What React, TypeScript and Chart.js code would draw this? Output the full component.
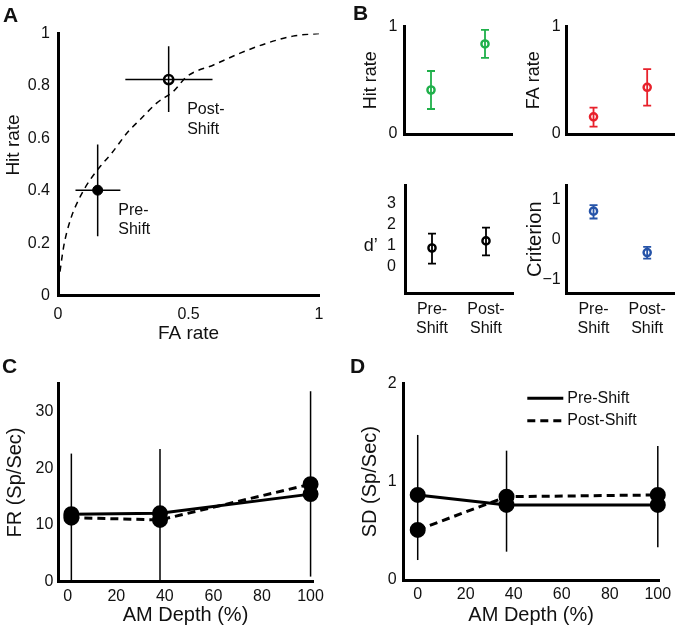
import React, { useEffect, useRef } from "react";
import { Chart, registerables } from "chart.js";
Chart.register(...registerables);

const FONT = "'Liberation Sans', Arial, Helvetica, sans-serif";
const INK = "#111";
const AXIS = "#000";

// ---------------- DATA ----------------
// Panel A: ROC curve
const rocFA = [0.002, 0.022, 0.048, 0.086, 0.124, 0.163, 0.207, 0.265, 0.315, 0.379, 0.443, 0.494, 0.596, 0.698, 0.8, 0.9, 1];
const rocHit = [0.05, 0.188, 0.29, 0.379, 0.443, 0.494, 0.545, 0.621, 0.672, 0.735, 0.78, 0.836, 0.88, 0.925, 0.963, 0.99, 1];
// Panel A: Pre-Shift, Post-Shift points
const ptFA = [0.152, 0.424];
const ptHit = [0.402, 0.824];
const ptFALo = [0.067, 0.258];
const ptFAHi = [0.239, 0.592];
const ptHitLo = [0.226, 0.7];
const ptHitHi = [0.576, 0.951];
const aTicksX = [0, 0.5, 1];
const aTicksY = [0, 0.2, 0.4, 0.6, 0.8, 1];

// Panel B
const shiftLabels = [["Pre-", "Shift"], ["Post-", "Shift"]];
const hitRate = [0.41, 0.839];
const hitLo = [0.233, 0.71];
const hitHi = [0.587, 0.97];
const faRate = [0.16, 0.435];
const faLo = [0.068, 0.264];
const faHi = [0.245, 0.605];
const dPrime = [0.88, 1.22];
const dLo = [0.13, 0.53];
const dHi = [1.57, 1.86];
const criterion = [0.705, -0.335];
const critLo = [0.52, -0.486];
const critHi = [0.856, -0.19];
const rateTicks = [0, 1];
const dTicks = [0, 1, 2, 3];
const critTicks = [-1, 0, 1];

// Panel C
const depthC = [1.5, 38, 100];
const frPre = [11.9, 12.06, 15.45];
const frPost = [11.3, 10.9, 17.2];
const frErrLo = [0, 0, 0.9];
const frErrHi = [22.6, 23.4, 33.6];
const frTicks = [0, 10, 20, 30];
const depthTicks = [0, 20, 40, 60, 80, 100];

// Panel D
const depthD = [0, 37, 100];
const sdPre = [0.865, 0.763, 0.763];
const sdPost = [0.509, 0.847, 0.865];
const sdErrLo = [0.203, 0.288, 0.332];
const sdErrHi = [1.475, 1.315, 1.363];
const sdTicks = [0, 1, 2];

// ---------------- LAYOUT ----------------
type Geo = { cx: number; cy: number; cw: number; ch: number; l: number; t: number; r: number; b: number };
const GA: Geo = { cx: 0, cy: 0, cw: 335, ch: 345, l: 58, t: 33.5, r: 319, b: 295.5 };
const GB1: Geo = { cx: 352, cy: 0, cw: 170, ch: 145, l: 404, t: 26.7, r: 512, b: 134 };
const GB2: Geo = { cx: 516, cy: 0, cw: 165, ch: 145, l: 566.7, t: 26.7, r: 674, b: 134 };
const GB3: Geo = { cx: 352, cy: 150, cw: 170, ch: 195, l: 405, t: 185, r: 513, b: 293.5 };
const GB4: Geo = { cx: 516, cy: 150, cw: 165, ch: 195, l: 566.7, t: 185, r: 674, b: 293.5 };
const GC: Geo = { cx: 0, cy: 350, cw: 335, ch: 278, l: 58, t: 383.3, r: 313, b: 581.7 };
const GD: Geo = { cx: 350, cy: 350, cw: 331, ch: 278, l: 403.3, t: 383.3, r: 659, b: 580 };

const GREEN = "#1fb04a";
const RED = "#e8212b";
const BLUE = "#2553a8";

const fmt = (v: number) => String(v).replace("-", "\u2212");

function zeroPad(s: any) {
  s.paddingLeft = 0;
  s.paddingRight = 0;
  s.paddingTop = 0;
  s.paddingBottom = 0;
}

type AxisSpec = {
  type?: string;
  min?: number;
  max?: number;
  ticks?: number[];
  showTicks?: boolean;
  tickPad: number;
  tickSize?: number;
  tickLineHeight?: number;
  title?: string;
  titleSize?: number;
  titleCenter?: number;
};

function xAxis(g: Geo, a: AxisSpec) {
  const h = g.cy + g.ch - g.b;
  const ts = a.titleSize || 19;
  const padBottom = a.title ? Math.max(0, g.cy + g.ch - (a.titleCenter as number) - (ts * 1.2) / 2) : 0;
  const o: any = {
    type: a.type || "linear",
    position: "bottom",
    offset: a.type === "category",
    afterFit: (s: any) => {
      s.height = h;
      zeroPad(s);
    },
    grid: { display: false, drawTicks: false, drawOnChartArea: false },
    border: { display: true, width: 3, color: AXIS },
    ticks: {
      display: a.showTicks !== false,
      autoSkip: false,
      maxRotation: 0,
      padding: a.tickPad,
      color: INK,
      font: { family: FONT, size: a.tickSize || 16, lineHeight: a.tickLineHeight || 1.2 },
    },
    title: {
      display: !!a.title,
      text: a.title || "",
      color: INK,
      font: { family: FONT, size: ts, lineHeight: 1.2 },
      padding: { top: 0, bottom: padBottom },
    },
  };
  if (a.type !== "category") {
    o.min = a.min;
    o.max = a.max;
    o.ticks.callback = (v: any) => fmt(v);
    const tv = a.ticks || [];
    o.afterBuildTicks = (s: any) => {
      s.ticks = tv.map((v) => ({ value: v }));
    };
  }
  return o;
}

function yAxis(g: Geo, a: AxisSpec) {
  const w = g.l - g.cx;
  const ts = a.titleSize || 18;
  const padTop = a.title ? (a.titleCenter as number) - g.cx - (ts * 1.2) / 2 : 0;
  const tv = a.ticks || [];
  return {
    type: "linear",
    position: "left",
    min: a.min,
    max: a.max,
    afterBuildTicks: (s: any) => {
      s.ticks = tv.map((v) => ({ value: v }));
    },
    afterFit: (s: any) => {
      s.width = w;
      zeroPad(s);
    },
    grid: { display: false, drawTicks: false, drawOnChartArea: false },
    border: { display: true, width: 3, color: AXIS },
    ticks: {
      autoSkip: false,
      padding: a.tickPad,
      color: INK,
      font: { family: FONT, size: a.tickSize || 16 },
      callback: (v: any) => fmt(v),
    },
    title: {
      display: !!a.title,
      text: a.title || "",
      color: INK,
      font: { family: FONT, size: ts, lineHeight: 1.2 },
      padding: { top: padTop, bottom: 0 },
    },
  };
}

type Bar = { di: number; lo?: number[]; hi?: number[]; xlo?: number[]; xhi?: number[]; color: string; width: number; cap?: number };

function errorBars(bars: Bar[]) {
  return {
    id: "errbars",
    beforeDatasetsDraw(chart: any) {
      const ctx = chart.ctx;
      const xs = chart.scales.x;
      const ys = chart.scales.y;
      for (const b of bars) {
        const meta = chart.getDatasetMeta(b.di);
        meta.data.forEach((el: any, i: number) => {
          const px = el.x;
          const py = el.y;
          ctx.save();
          ctx.strokeStyle = b.color;
          ctx.lineWidth = b.width;
          ctx.beginPath();
          if (b.lo && b.hi) {
            const y1 = ys.getPixelForValue(b.lo[i]);
            const y2 = ys.getPixelForValue(b.hi[i]);
            ctx.moveTo(px, y1);
            ctx.lineTo(px, y2);
            if (b.cap) {
              ctx.moveTo(px - b.cap, y1);
              ctx.lineTo(px + b.cap, y1);
              ctx.moveTo(px - b.cap, y2);
              ctx.lineTo(px + b.cap, y2);
            }
          }
          if (b.xlo && b.xhi) {
            const x1 = xs.getPixelForValue(b.xlo[i]);
            const x2 = xs.getPixelForValue(b.xhi[i]);
            ctx.moveTo(x1, py);
            ctx.lineTo(x2, py);
          }
          ctx.stroke();
          ctx.restore();
        });
      }
    },
  };
}

type TextItem = { text: string; x: number; y: number; data?: boolean; size: number; align?: string; rotate?: number; bold?: boolean };

function texts(items: TextItem[]) {
  return {
    id: "texts",
    afterDraw(chart: any) {
      const ctx = chart.ctx;
      for (const it of items) {
        let x = it.x;
        let y = it.y;
        if (it.data) {
          x = chart.scales.x.getPixelForValue(it.x);
          y = chart.scales.y.getPixelForValue(it.y);
        }
        ctx.save();
        ctx.font = `${it.bold ? "bold " : ""}${it.size}px ${FONT}`;
        ctx.fillStyle = INK;
        ctx.textAlign = it.align || "left";
        ctx.textBaseline = "middle";
        ctx.translate(x, y);
        if (it.rotate) ctx.rotate(it.rotate);
        ctx.fillText(it.text, 0, 0);
        ctx.restore();
      }
    },
  };
}

const inlineLegend = {
  id: "inlineLegend",
  afterDraw(chart: any) {
    const ctx = chart.ctx;
    const ca = chart.chartArea;
    chart.data.datasets.forEach((ds: any, i: number) => {
      const y = ca.top + 15 + i * 22.4;
      const x0 = ca.left + 124;
      ctx.save();
      ctx.strokeStyle = "#000";
      ctx.lineWidth = 3;
      ctx.setLineDash(ds.borderDash || []);
      ctx.beginPath();
      ctx.moveTo(x0, y);
      ctx.lineTo(x0 + 36, y);
      ctx.stroke();
      ctx.setLineDash([]);
      ctx.font = `16px ${FONT}`;
      ctx.fillStyle = INK;
      ctx.textBaseline = "middle";
      ctx.fillText(ds.label, x0 + 40, y);
      ctx.restore();
    });
  },
};

function baseOptions(g: Geo, x: any, y: any) {
  return {
    responsive: false,
    animation: false,
    events: [],
    layout: { padding: { left: 0, top: g.t - g.cy, right: g.cx + g.cw - g.r, bottom: 0 } },
    plugins: { legend: { display: false }, tooltip: { enabled: false } },
    scales: { x, y },
  };
}

// ---------------- CHART CONFIGS ----------------
function configA() {
  return {
    type: "line",
    data: {
      datasets: [
        {
          data: rocFA.map((v, i) => ({ x: v, y: rocHit[i] })),
          borderColor: "#000",
          borderWidth: 1.5,
          borderDash: [6, 5],
          pointRadius: 0,
          cubicInterpolationMode: "monotone",
          fill: false,
        },
        {
          data: [{ x: ptFA[0], y: ptHit[0] }],
          showLine: false,
          clip: false,
          pointRadius: 5,
          pointBackgroundColor: "#000",
          pointBorderColor: "#000",
          pointBorderWidth: 1,
        },
        {
          data: [{ x: ptFA[1], y: ptHit[1] }],
          showLine: false,
          clip: false,
          pointRadius: 4.6,
          pointBackgroundColor: "rgba(0,0,0,0)",
          pointBorderColor: "#000",
          pointBorderWidth: 2.6,
        },
      ],
    },
    options: baseOptions(
      GA,
      xAxis(GA, { min: 0, max: 1, ticks: aTicksX, tickPad: 9, title: "FA rate", titleSize: 19, titleCenter: 334 }),
      yAxis(GA, { min: 0, max: 1, ticks: aTicksY, tickPad: 8 })
    ),
    plugins: [
      errorBars([
        { di: 1, lo: [ptHitLo[0]], hi: [ptHitHi[0]], xlo: [ptFALo[0]], xhi: [ptFAHi[0]], color: "#000", width: 1.5 },
        { di: 2, lo: [ptHitLo[1]], hi: [ptHitHi[1]], xlo: [ptFALo[1]], xhi: [ptFAHi[1]], color: "#000", width: 1.5 },
      ]),
      texts([
        { text: "Hit rate", x: 14, y: 145, size: 19, align: "center", rotate: -Math.PI / 2 },
        { text: "Pre-", x: 0.231, y: 0.324, data: true, size: 16 },
        { text: "Shift", x: 0.231, y: 0.25, data: true, size: 16 },
        { text: "Post-", x: 0.495, y: 0.708, data: true, size: 16 },
        { text: "Shift", x: 0.495, y: 0.632, data: true, size: 16 },
      ]),
    ],
  };
}

function configB(g: Geo, values: number[], lo: number[], hi: number[], color: string, yMin: number, yMax: number, yTicks: number[], yPad: number, title: string | null, titleCenter: number, titleSize: number, showX: boolean, extra: TextItem[]) {
  return {
    type: "line",
    data: {
      labels: shiftLabels,
      datasets: [
        {
          data: values,
          showLine: false,
          clip: false,
          pointRadius: 3.6,
          pointBorderWidth: 2.4,
          pointBorderColor: color,
          pointBackgroundColor: "rgba(0,0,0,0)",
        },
      ],
    },
    options: baseOptions(
      g,
      xAxis(g, { type: "category", showTicks: showX, tickPad: 7.3, tickLineHeight: 1.15 }),
      yAxis(g, { min: yMin, max: yMax, ticks: yTicks, tickPad: yPad, title: title || undefined, titleSize, titleCenter })
    ),
    plugins: [errorBars([{ di: 0, lo, hi, color, width: 1.8, cap: 4 }]), texts(extra)],
  };
}

function configCD(g: Geo, xs: number[], pre: number[], post: number[], lo: number[], hi: number[], yMin: number, yMax: number, yTicks: number[], xMin: number, xMax: number, yPad: number, title: string, titleCenter: number, legend: boolean) {
  const plugins: any[] = [errorBars([{ di: 0, lo, hi, color: "#000", width: 1.5 }])];
  if (legend) plugins.push(inlineLegend);
  return {
    type: "line",
    data: {
      datasets: [
        {
          label: "Pre-Shift",
          data: xs.map((v, i) => ({ x: v, y: pre[i] })),
          clip: false,
          borderColor: "#000",
          borderWidth: 3,
          pointRadius: 6.5,
          pointBackgroundColor: "#000",
          pointBorderColor: "#000",
          fill: false,
        },
        {
          label: "Post-Shift",
          data: xs.map((v, i) => ({ x: v, y: post[i] })),
          clip: false,
          borderColor: "#000",
          borderWidth: 3,
          borderDash: [8, 5],
          pointRadius: 6.5,
          pointBackgroundColor: "#000",
          pointBorderColor: "#000",
          fill: false,
        },
      ],
    },
    options: baseOptions(
      g,
      xAxis(g, { min: xMin, max: xMax, ticks: depthTicks, tickPad: 5.4, title: "AM Depth (%)", titleSize: 20, titleCenter: 615 }),
      yAxis(g, { min: yMin, max: yMax, ticks: yTicks, tickPad: yPad, title, titleSize: 20, titleCenter })
    ),
    plugins,
  };
}

// ---------------- COMPONENTS ----------------
function Panel({ g, make }: { g: Geo; make: () => any }) {
  const ref = useRef<HTMLCanvasElement | null>(null);
  useEffect(() => {
    const c = ref.current as HTMLCanvasElement;
    const chart = new Chart(c.getContext("2d") as any, make() as any);
    return () => chart.destroy();
  }, []);
  return (
    <canvas
      ref={ref}
      width={g.cw}
      height={g.ch}
      style={{ position: "absolute", left: g.cx, top: g.cy, width: g.cw, height: g.ch }}
    />
  );
}

const letterStyle = (left: number, top: number): React.CSSProperties => ({
  position: "absolute",
  left,
  top,
  font: `bold 21px ${FONT}`,
  lineHeight: "21px",
  color: INK,
});

export default function App() {
  return (
    <div style={{ position: "absolute", left: 0, top: 0, width: 681, height: 628, background: "#fff", overflow: "hidden" }}>
      <Panel g={GA} make={configA} />
      <Panel g={GB1} make={() => configB(GB1, hitRate, hitLo, hitHi, GREEN, 0, 1, rateTicks, 6.7, "Hit rate", 370.7, 18, false, [])} />
      <Panel g={GB2} make={() => configB(GB2, faRate, faLo, faHi, RED, 0, 1, rateTicks, 6, "FA rate", 534.5, 18, false, [])} />
      <Panel
        g={GB3}
        make={() =>
          configB(GB3, dPrime, dLo, dHi, "#000", -1.3, 3.9, dTicks, 9, null, 0, 18, true, [
            { text: "d\u2019", x: 370.7 - GB3.cx, y: 246 - GB3.cy, size: 18, align: "center" },
          ])
        }
      />
      <Panel g={GB4} make={() => configB(GB4, criterion, critLo, critHi, BLUE, -1.36, 1.36, critTicks, 6, "Criterion", 535, 20, true, [])} />
      <Panel g={GC} make={() => configCD(GC, depthC, frPre, frPost, frErrLo, frErrHi, 0, 35, frTicks, -4, 101, 4.7, "FR (Sp/Sec)", 15, false)} />
      <Panel g={GD} make={() => configCD(GD, depthD, sdPre, sdPost, sdErrLo, sdErrHi, 0, 2, sdTicks, -6, 100.5, 6.6, "SD (Sp/Sec)", 370.7, true)} />
      <div style={letterStyle(3, 4)}>A</div>
      <div style={letterStyle(353, 2)}>B</div>
      <div style={letterStyle(2, 355)}>C</div>
      <div style={letterStyle(350, 355)}>D</div>
    </div>
  );
}
